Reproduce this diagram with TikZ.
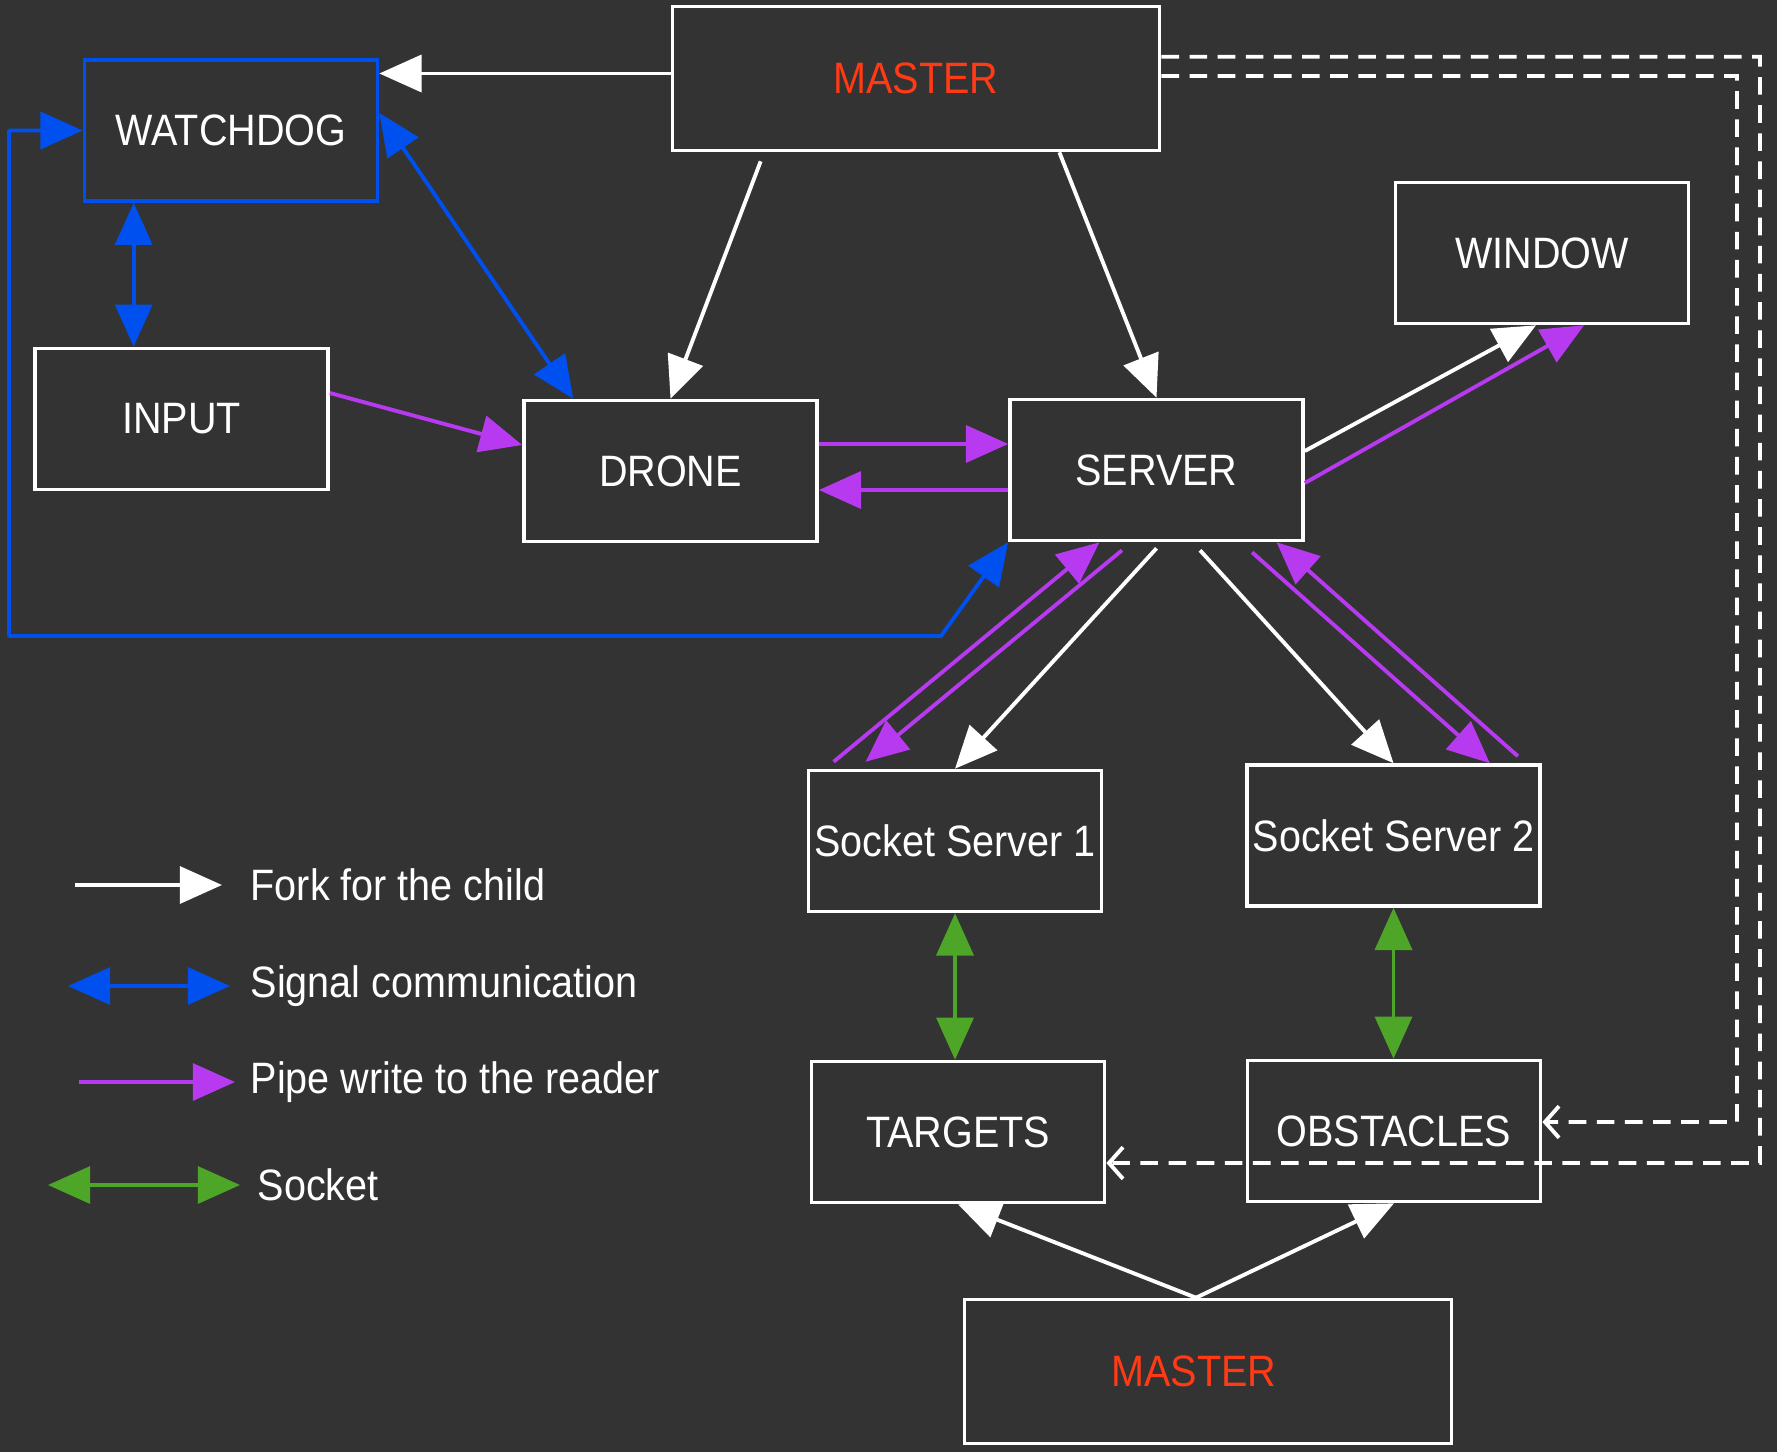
\documentclass[tikz,border=0pt]{standalone}
\usepackage{fontspec}
\setmainfont[FakeStretch=0.9]{Liberation Sans}
\definecolor{bggray}{RGB}{51, 51, 51}
\definecolor{sigblue}{RGB}{0, 80, 239}
\definecolor{pipepurple}{RGB}{184, 58, 240}
\definecolor{sockgreen}{RGB}{77, 166, 40}
\definecolor{masterred}{RGB}{255, 58, 20}
\usetikzlibrary{arrows.meta, calc}

\begin{document}
\begin{tikzpicture}[x=0.01cm, y=-0.01cm,
  proc/.style={draw=white, line width=1pt, fill=bggray, text=white, minimum width=2.93cm, minimum height=1.41cm, inner sep=0pt, font=\fontsize{12.5}{15}\selectfont},
  masterbox/.style={proc, minimum width=4.87cm, minimum height=1.44cm, text=masterred},
  fork/.style={draw=white, line width=1.1pt, -{Triangle[length=12pt, width=10.5pt]}},
  signal/.style={draw=sigblue, line width=1.1pt, line join=round, {Triangle[length=12pt, width=10.5pt]}-{Triangle[length=12pt, width=10.5pt]}},
  pipe/.style={draw=pipepurple, line width=1.1pt, -{Triangle[length=12pt, width=10.5pt]}},
  sock/.style={draw=sockgreen, line width=1.1pt, {Triangle[length=12pt, width=10.5pt]}-{Triangle[length=12pt, width=10.5pt]}},
  sync/.style={draw=white, line width=1.1pt, dash pattern=on 5pt off 3pt, -{Straight Barb[length=4pt, width=9pt]}},
  legend/.style={anchor=west, inner sep=0pt, text=white, font=\fontsize{12.5}{15}\selectfont}]

  % Canvas
  \useasboundingbox (0,0) rectangle (1777,1452);
  \fill[bggray] (0,0) rectangle (1777,1452);

  % Processes
  \node[masterbox] (master1) at (916,78.5) {MASTER};
  \node[proc, draw=sigblue] (watchdog) at (231,130.5) {WATCHDOG};
  \node[proc] (input) at (181.5,419) {INPUT};
  \node[proc] (drone) at (670.5,471) {DRONE};
  \node[proc] (server) at (1156.5,470) {SERVER};
  \node[proc] (window) at (1542,253) {WINDOW};
  \node[proc] (ss1) at (955,841) {Socket Server 1};
  \node[proc] (ss2) at (1393.5,835.5) {Socket Server 2};
  \node[proc] (targets) at (958,1132) {TARGETS};
  \node[proc] (obstacles) at (1394,1131) {OBSTACLES};
  \node[masterbox] (master2) at (1208,1371.5) {\hspace*{-0.28cm}MASTER};

  % Forks
  \coordinate (mwd) at ([yshift=0.05cm]master1.west);
  \draw[fork] (mwd) -- (mwd -| watchdog.east);
  \draw[fork] ([xshift=0.9cm, yshift=-0.09cm]master1.south west) -- (drone.north);
  \draw[fork] ([xshift=-1.02cm]master1.south east) -- (server.north);
  \draw[fork] ([yshift=0.19cm]server.east) -- ([xshift=-0.06cm]window.south);
  \draw[fork] ([yshift=-0.06cm]server.south) -- (ss1.north);
  \draw[fork] ([xshift=0.435cm, yshift=-0.08cm]server.south) -- (ss2.north);
  \draw[fork] ([xshift=-0.12cm]master2.north) -- (targets.south);
  \draw[fork] ([xshift=-0.12cm]master2.north) -- (obstacles.south);

  % Signals
  \coordinate (wdin) at ([xshift=0.51cm]watchdog.south west);
  \draw[signal] (wdin) -- (wdin |- input.north);
  \draw[signal] ([yshift=0.175cm]watchdog.east) -- ([xshift=0.51cm]drone.north west);
  \coordinate (wdcorner) at (9,636);
  \coordinate (wdbend) at (941,636);
  \draw[signal] (watchdog.west) -| (wdcorner) -- (wdbend) -- (server.south west);

  % Pipes
  \draw[pipe] ([yshift=0.26cm]input.east) -- ([yshift=0.26cm]drone.west);
  \coordinate (dsup) at ([yshift=0.27cm]drone.east);
  \draw[pipe] (dsup) -- (dsup -| server.west);
  \coordinate (sdlow) at ([yshift=-0.2cm]server.west);
  \draw[pipe] (sdlow) -- (sdlow -| drone.east);
  \draw[pipe] ([yshift=-0.13cm]server.east) -- ([xshift=0.42cm]window.south);
  \draw[pipe] ([xshift=0.27cm, yshift=0.07cm]ss1.north west) -- ([xshift=-0.57cm]server.south);
  \draw[pipe] ([xshift=-0.345cm, yshift=-0.08cm]server.south) -- ([xshift=0.59cm, yshift=0.07cm]ss1.north west);
  \draw[pipe] ([xshift=0.955cm, yshift=-0.1cm]server.south) -- ([xshift=-0.52cm]ss2.north east);
  \draw[pipe] ([xshift=-0.24cm, yshift=0.07cm]ss2.north east) -- ([xshift=1.2cm]server.south);

  % Sockets
  \draw[sock] (ss1.south) -- (ss1.south |- targets.north);
  \draw[sock] (ss2.south) -- (ss2.south |- obstacles.north);

  % Master to targets and obstacles
  \coordinate (synca) at (1760,1163);
  \coordinate (syncb) at (1737,1122);
  \draw[sync] ([yshift=-0.52cm]master1.north east) -| (synca) -- ([yshift=-0.31cm]targets.east);
  \draw[sync] ([yshift=0.025cm]master1.east) -| (syncb) -- ([yshift=0.09cm]obstacles.east);

  % Legend
  \node[legend] (tfork) at (250,885) {Fork for the child};
  \node[legend] (tsignal) at (250,986) {Signal communication};
  \node[legend] (tpipe) at (250,1082) {Pipe write to the reader};
  \node[legend] (tsock) at (257,1185) {Socket};
  \coordinate (lfork) at (75,885);
  \coordinate (lsignal) at (68,986);
  \coordinate (lpipe) at (79,1082);
  \coordinate (lsock) at (48,1185);
  \draw[fork] (lfork) -- ([xshift=-0.28cm]tfork.west);
  \draw[signal] (lsignal) -- ([xshift=-0.2cm]tsignal.west);
  \draw[pipe] (lpipe) -- ([xshift=-0.15cm]tpipe.west);
  \draw[sock] (lsock) -- ([xshift=-0.17cm]tsock.west);
\end{tikzpicture}
\end{document}
